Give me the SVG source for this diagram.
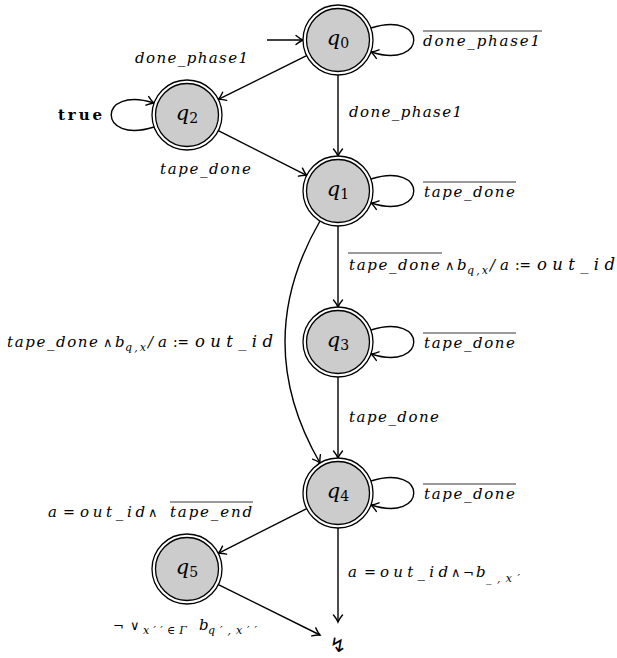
<svg xmlns="http://www.w3.org/2000/svg" width="617" height="658" viewBox="0 0 617 658">
<style>
.lbl{font-family:"DejaVu Serif",serif;font-style:italic;font-size:15px;fill:#000}
.big{font-size:16.5px}
.sub{font-family:"DejaVu Serif",serif;font-style:italic;font-size:11px;fill:#000}
.up{font-family:"DejaVu Serif",serif;font-style:normal;font-size:14px;fill:#000}
.sym{font-family:"DejaVu Sans",sans-serif;font-style:normal;font-size:13px;fill:#000}
.bold{font-family:"DejaVu Serif",serif;font-weight:bold;font-size:15px;fill:#000}
.ql{font-family:"DejaVu Serif",serif;font-style:italic;font-size:21px;fill:#000}
.qs{font-style:normal;font-size:14px}
.outer{fill:#fff;stroke:#000;stroke-width:1.3}
.inner{fill:#cccccc;stroke:#000;stroke-width:1.3}
.e{fill:none;stroke:#000;stroke-width:1.4;marker-end:url(#arr)}
.ov{stroke:#000;stroke-width:0.8}
</style>
<defs>
<marker id="arr" markerWidth="14" markerHeight="14" refX="11" refY="7" orient="auto" markerUnits="userSpaceOnUse" viewBox="0 0 14 14">
<path d="M4,2.5 Q8,5.8 11,7 Q8,8.2 4,11.5" fill="none" stroke="#000" stroke-width="1.4" stroke-linecap="round"/>
</marker>
</defs>

<g id="edges">
<line class="e" x1="267" y1="40" x2="303" y2="40"/>
<path class="e" d="M371,28 C428,10 428,70 371,52"/>
<line class="e" x1="306.6" y1="55.6" x2="218.4" y2="99.4"/>
<path class="e" d="M154,127 C97,145 97,85 154,103"/>
<line class="e" x1="338" y1="75" x2="338" y2="156"/>
<line class="e" x1="218.3" y1="130.7" x2="306.7" y2="175.3"/>
<path class="e" d="M371,179 C428,161 428,221 371,203"/>
<line class="e" x1="338" y1="226" x2="338" y2="307"/>
<path class="e" d="M320,221 Q250,342 320,463"/>
<path class="e" d="M371,330 C428,312 428,372 371,354"/>
<line class="e" x1="338" y1="377" x2="338" y2="458"/>
<path class="e" d="M371,481 C428,463 428,523 371,505"/>
<line class="e" x1="306.7" y1="508.7" x2="218.3" y2="553.3"/>
<line class="e" x1="338" y1="528" x2="338" y2="622"/>
<line class="e" x1="218.4" y1="584.6" x2="320" y2="635"/>
</g>

<g id="q0"><circle class="outer" cx="338" cy="40" r="35"/><circle class="inner" cx="338" cy="40" r="31.5"/><text class="ql" x="338" y="45" text-anchor="middle">q<tspan class="qs" dy="3">0</tspan></text></g>
<g id="q1"><circle class="outer" cx="338" cy="191" r="35"/><circle class="inner" cx="338" cy="191" r="31.5"/><text class="ql" x="338" y="196" text-anchor="middle">q<tspan class="qs" dy="3">1</tspan></text></g>
<g id="q2"><circle class="outer" cx="187" cy="115" r="35"/><circle class="inner" cx="187" cy="115" r="31.5"/><text class="ql" x="187" y="120" text-anchor="middle">q<tspan class="qs" dy="3">2</tspan></text></g>
<g id="q3"><circle class="outer" cx="338" cy="342" r="35"/><circle class="inner" cx="338" cy="342" r="31.5"/><text class="ql" x="338" y="347" text-anchor="middle">q<tspan class="qs" dy="3">3</tspan></text></g>
<g id="q4"><circle class="outer" cx="338" cy="493" r="35"/><circle class="inner" cx="338" cy="493" r="31.5"/><text class="ql" x="338" y="498" text-anchor="middle">q<tspan class="qs" dy="3">4</tspan></text></g>
<g id="q5"><circle class="outer" cx="187" cy="569" r="35"/><circle class="inner" cx="187" cy="569" r="31.5"/><text class="ql" x="187" y="574" text-anchor="middle">q<tspan class="qs" dy="3">5</tspan></text></g>
<g id="sink"><text x="338" y="652" text-anchor="middle" style="font-family:'DejaVu Sans',sans-serif;font-size:20px">↯</text></g>

<g id="labels">
<text class="lbl" x="423" y="46" textLength="117" lengthAdjust="spacing">done_phase1</text>
<line class="ov" x1="423" y1="31" x2="542" y2="31"/>
<text class="lbl" x="135" y="63" textLength="113" lengthAdjust="spacing">done_phase1</text>
<text class="bold" x="58" y="120" textLength="44" lengthAdjust="spacing">true</text>
<text class="lbl" x="160" y="174" textLength="91" lengthAdjust="spacing">tape_done</text>
<text class="lbl" x="349" y="117" textLength="113" lengthAdjust="spacing">done_phase1</text>
<text class="lbl" x="424" y="197" textLength="91" lengthAdjust="spacing">tape_done</text>
<line class="ov" x1="423" y1="182" x2="516" y2="182"/>

<text class="lbl" x="349" y="270" textLength="91" lengthAdjust="spacing">tape_done</text>
<line class="ov" x1="348" y1="253" x2="442" y2="253"/>
<text class="sym" x="445" y="270">∧</text>
<text class="lbl" x="457" y="270">b</text>
<text class="sub" x="467" y="274" textLength="21" lengthAdjust="spacing">q,x</text>
<text class="lbl" x="490" y="270" textLength="19" lengthAdjust="spacing">/a</text>
<text class="up" x="515" y="270" textLength="16" lengthAdjust="spacingAndGlyphs">:=</text>
<text class="lbl big" x="537" y="270" textLength="78" lengthAdjust="spacing">out_id</text>

<text class="lbl" x="7" y="347" textLength="91" lengthAdjust="spacing">tape_done</text>
<text class="sym" x="103" y="347">∧</text>
<text class="lbl" x="115" y="347">b</text>
<text class="sub" x="125" y="351" textLength="21" lengthAdjust="spacing">q,x</text>
<text class="lbl" x="148" y="347" textLength="19" lengthAdjust="spacing">/a</text>
<text class="up" x="173" y="347" textLength="16" lengthAdjust="spacingAndGlyphs">:=</text>
<text class="lbl big" x="195" y="347" textLength="78" lengthAdjust="spacing">out_id</text>

<text class="lbl" x="424" y="348" textLength="91" lengthAdjust="spacing">tape_done</text>
<line class="ov" x1="423" y1="333" x2="516" y2="333"/>
<text class="lbl" x="349" y="422" textLength="90" lengthAdjust="spacing">tape_done</text>
<text class="lbl" x="424" y="499" textLength="91" lengthAdjust="spacing">tape_done</text>
<line class="ov" x1="423" y1="484" x2="516" y2="484"/>

<text class="lbl" x="48" y="517">a</text>
<text class="up" x="63" y="517" textLength="12" lengthAdjust="spacingAndGlyphs">=</text>
<text class="lbl" x="80" y="517" textLength="65" lengthAdjust="spacing">out_id</text>
<text class="sym" x="148" y="517">∧</text>
<text class="lbl" x="170" y="517" textLength="82" lengthAdjust="spacing">tape_end</text>
<line class="ov" x1="170" y1="502" x2="253" y2="502"/>

<text class="lbl" x="348" y="577">a</text>
<text class="up" x="364" y="577" textLength="12" lengthAdjust="spacingAndGlyphs">=</text>
<text class="lbl" x="380" y="577" textLength="68" lengthAdjust="spacing">out_id</text>
<text class="sym" x="451" y="577">∧</text>
<text class="sym" x="463" y="577">¬</text>
<text class="lbl" x="476" y="577">b</text>
<text class="sub" x="486" y="582" textLength="34" lengthAdjust="spacing">_,x′</text>

<text class="sym" x="113" y="630">¬</text>
<text class="sym" x="130" y="630">∨</text>
<text class="sub" x="143" y="634" textLength="44" lengthAdjust="spacing">x′′∈Γ</text>
<text class="lbl" x="199" y="630">b</text>
<text class="sub" x="208" y="634" textLength="49" lengthAdjust="spacing">q′,x′′</text>
</g>
</svg>
